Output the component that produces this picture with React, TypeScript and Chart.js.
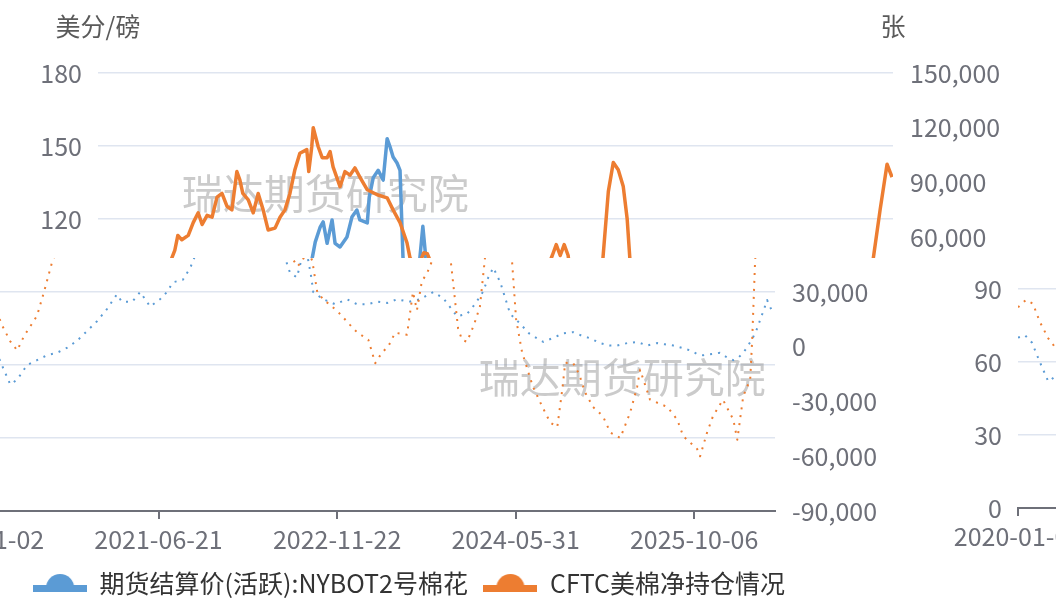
import React, { useEffect, useRef } from "react";
import { Chart, registerables } from "chart.js";

Chart.register(...registerables);

// ---------------- data ----------------
// x values are trading-day offsets from 2020-01-02
const tickDays = [0, 360, 720, 1080, 1440];
const tickLabels = ["2020-01-02", "2021-06-21", "2022-11-22", "2024-05-31", "2025-10-06"];
const lastDay = 1603;

const priceName = "期货结算价(活跃):NYBOT2号棉花";
const netName = "CFTC美棉净持仓情况";
const leftAxisName = "美分/磅";
const rightAxisName = "张";
const watermarkText = "瑞达期货研究院";

const priceDays = [
  0, 14, 28, 44, 61, 75, 95, 115, 135, 155, 175, 196, 216, 236, 256, 276, 286, 307, 323, 343,
  363, 377, 389, 409, 424, 432, 438, 448, 454, 462, 472, 478, 488, 502, 512, 522, 528, 543, 547, 555,
  565, 575, 583, 589, 595, 603, 609, 615, 625, 639, 649, 655, 661, 668, 672, 692, 716, 740, 760, 781,
  801, 821, 841, 865, 887, 914, 934, 962, 982, 998, 1014, 1025, 1035, 1049, 1069, 1089, 1107, 1123, 1136, 1154,
  1176, 1196, 1214, 1230, 1250, 1269, 1285, 1305, 1325, 1345, 1365, 1381, 1398, 1416, 1432, 1446, 1458, 1476, 1492, 1507,
  1519, 1529, 1539, 1549, 1559, 1567, 1573, 1581, 1587, 1593, 1599,
];
const priceValues = [
  70, 71, 68, 60, 52, 54, 60, 62, 64, 65, 67, 70, 74, 78, 83, 89, 86, 86, 90, 84,
  87, 90, 94, 95, 100, 104, 110.5, 116.7, 118.8, 110, 119.6, 110, 108.5, 112.6, 120.8, 123.7, 119.6, 118.4, 129, 137,
  140, 136, 153, 149.6, 145.5, 143, 140, 104, 98, 96, 104, 117, 104, 96, 90, 87, 85, 87, 85, 85,
  86, 85.5, 87, 86, 87, 90, 87.5, 80, 81, 85, 90, 96, 100, 94, 81, 77, 73, 71, 69.5, 71,
  73, 73.5, 72, 71, 69, 68, 68, 69, 69.5, 68, 69, 68.5, 68, 67, 66, 64.5, 64, 64.5, 65, 63,
  62, 63, 65, 68, 71.5, 75, 78.5, 83, 86.7, 84, 81,
];

const netDays = [
  0, 16, 30, 44, 61, 75, 89, 101, 115, 129, 141, 145, 155, 161, 169, 182, 192, 202, 210, 220,
  230, 240, 250, 260, 270, 280, 286, 292, 303, 313, 323, 333, 343, 357, 367, 377, 387, 397, 407, 421,
  425, 431, 434, 444, 452, 462, 468, 474, 488, 498, 508, 518, 528, 543, 563, 583, 595, 609, 623, 629,
  640, 650, 657, 664, 670, 680, 692, 710, 726, 746, 760, 783, 797, 811, 823, 837, 861, 873, 881, 891,
  901, 916, 924, 932, 940, 948, 956, 964, 972, 982, 996, 1008, 1018, 1029, 1039, 1049, 1059, 1067, 1073, 1081,
  1093, 1115, 1134, 1150, 1164, 1174, 1180, 1196, 1208, 1220, 1236, 1256, 1271, 1291, 1311, 1325, 1331, 1351, 1386, 1406,
  1418, 1446, 1452, 1466, 1478, 1498, 1519, 1527, 1539, 1553, 1557, 1563, 1577, 1591, 1601,
];
const netValues = [
  20000, 24000, 22000, 12000, 3000, -2000, 6000, 11000, 17000, 30000, 42000, 46000, 53000, 61000, 58600, 61000, 68000, 73400, 67000, 72000,
  71000, 82000, 84000, 77000, 75000, 96000, 91500, 84000, 80500, 73400, 84000, 75000, 64000, 65000, 71000, 75000, 84000, 97000, 106000, 108000,
  96000, 109600, 120000, 109600, 103600, 103600, 107000, 98600, 87700, 96000, 94000, 98000, 93000, 86000, 83300, 81600, 75000, 68000, 57000, 48800,
  44000, 47000, 51500, 51000, 47000, 30000, 26000, 22000, 18000, 12000, 8000, 3800, -9000, -3000, 0, 7700, 6600, 30000, 20000, 36000,
  40000, 50000, 56000, 50000, 56000, 50000, 30000, 10000, 3800, 2700, 12000, 22000, 48000, 85000, 101000, 97000, 88000, 70000, 46000, 15000,
  -3000, -22000, -33000, -41600, -44000, -23600, -8800, -9000, -15000, -25000, -33000, -38000, -47000, -50000, -36000, -22000, -12600, -29000, -33000, -40000,
  -49000, -56000, -60000, -47000, -38000, -29000, -40000, -51000, -27000, -18000, 4000, 48000, 75000, 100000, 93000,
];

const leftMin = 0, leftMax = 180, leftStep = 30;
const rightMin = -90000, rightMax = 150000, rightStep = 30000;

// ---------------- style ----------------
const BLUE = "#5B9BD5";
const ORANGE = "#ED7D31";
const FONT = '"Noto Sans CJK SC", "Noto Sans", sans-serif';
const TICK_COLOR = "#6E7079";
const GRID_COLOR = "#DFE5F0";
const SPLIT = 258;
const SHIFT = 118;
const CANVAS_W = 1040;
const CANVAS_H = 602;

Chart.defaults.font.family = FONT;

function legendIcon(color: string) {
  const c = document.createElement("canvas");
  c.width = 54;
  c.height = 28;
  const g = c.getContext("2d")!;
  g.fillStyle = color;
  g.fillRect(0, 16, 54, 7);
  g.beginPath();
  g.arc(27, 19, 14, Math.PI, 0);
  g.closePath();
  g.fill();
  return c;
}

const decorPlugin = {
  id: "decor",
  beforeDatasetsDraw(chart: any) {
    const { ctx, chartArea: a } = chart;
    const w = a.right - a.left;
    const h = a.bottom - a.top;
    ctx.save();
    ctx.font = `41px ${FONT}`;
    ctx.fillStyle = "rgba(140,140,140,0.45)";
    ctx.textAlign = "center";
    ctx.textBaseline = "middle";
    [[0.286, 0.274], [0.808, 0.696]].forEach(([fx, fy]) => {
      ctx.fillText(watermarkText, a.left + fx * w, a.top + fy * h);
    });
    ctx.restore();
  },
  afterDraw(chart: any) {
    const { ctx, chartArea: a } = chart;
    ctx.save();
    ctx.font = `25px ${FONT}`;
    ctx.fillStyle = "#5a5a5a";
    ctx.textAlign = "center";
    ctx.textBaseline = "middle";
    ctx.fillText(leftAxisName, a.left, a.top - 47);
    ctx.fillText(rightAxisName, a.right, a.top - 47);
    ctx.restore();
  },
};

function makeConfig(dotted: boolean): any {
  const line = dotted
    ? { borderWidth: 2, borderDash: [2, 6] }
    : { borderWidth: 3.5, borderDash: [] as number[] };
  const pricePoints = priceDays.map((d, i) => ({ x: d, y: priceValues[i] }));
  const netPoints = netDays.map((d, i) => ({ x: d, y: netValues[i] }));
  return {
    type: "line",
    data: {
      datasets: [
        {
          label: priceName,
          data: pricePoints,
          yAxisID: "y",
          borderColor: BLUE,
          backgroundColor: BLUE,
          pointRadius: 0,
          pointHoverRadius: 0,
          pointStyle: legendIcon(BLUE),
          borderJoinStyle: "round",
          tension: 0,
          order: 2,
          ...line,
        },
        {
          label: netName,
          data: netPoints,
          yAxisID: "y1",
          borderColor: ORANGE,
          backgroundColor: ORANGE,
          pointRadius: 0,
          pointHoverRadius: 0,
          pointStyle: legendIcon(ORANGE),
          borderJoinStyle: "round",
          tension: 0,
          order: 1,
          ...line,
        },
      ],
    },
    options: {
      animation: false,
      responsive: false,
      devicePixelRatio: 1,
      layout: { padding: { left: 14, right: 0, top: 73, bottom: -3.5 } },
      scales: {
        x: {
          type: "linear",
          min: 0,
          max: lastDay,
          afterBuildTicks: (s: any) => {
            s.ticks = tickDays.map((v) => ({ value: v }));
          },
          afterFit: (s: any) => {
            s.height = 44;
          },
          ticks: {
            autoSkip: false,
            maxRotation: 0,
            padding: 5,
            color: TICK_COLOR,
            font: { size: 25 },
            callback: (_v: any, i: number) => tickLabels[i] ?? "",
          },
          grid: { drawOnChartArea: false, drawTicks: true, tickLength: 8, color: "#6E7079", lineWidth: 2 },
          border: { display: true, color: "#6E7079", width: 2 },
        },
        y: {
          position: "left",
          min: leftMin,
          max: leftMax,
          afterFit: (s: any) => {
            s.width = 84;
          },
          ticks: { stepSize: leftStep, padding: 16, color: TICK_COLOR, font: { size: 25 } },
          grid: { color: GRID_COLOR, lineWidth: 1.5, drawTicks: false },
          border: { display: false },
        },
        y1: {
          position: "right",
          min: rightMin,
          max: rightMax,
          afterFit: (s: any) => {
            s.width = 147;
          },
          ticks: {
            stepSize: rightStep,
            padding: 17,
            color: TICK_COLOR,
            font: { size: 25 },
            callback: (v: any) => Number(v).toLocaleString("en-US"),
          },
          grid: { drawOnChartArea: false, drawTicks: false },
          border: { display: false },
        },
      },
      plugins: {
        tooltip: { enabled: false },
        legend: {
          display: true,
          position: "bottom",
          labels: {
            usePointStyle: true,
            pointStyleWidth: 54,
            padding: 15.5,
            color: "#333333",
            font: { size: 25 },
            sort: (a: any, b: any) => a.datasetIndex - b.datasetIndex,
          },
        },
      },
    },
    plugins: [decorPlugin],
  };
}

function CottonChart({ dotted }: { dotted: boolean }) {
  const ref = useRef<HTMLCanvasElement>(null);
  useEffect(() => {
    const chart = new Chart(ref.current as HTMLCanvasElement, makeConfig(dotted));
    return () => chart.destroy();
  }, [dotted]);
  return (
    <canvas
      ref={ref}
      width={CANVAS_W}
      height={CANVAS_H}
      style={{ display: "block", width: CANVAS_W, height: CANVAS_H }}
    />
  );
}

export default function App() {
  return (
    <div
      style={{
        position: "fixed",
        left: 0,
        top: 0,
        width: 1056,
        height: 602,
        overflow: "hidden",
        background: "#ffffff",
      }}
    >
      <div style={{ position: "absolute", left: 0, top: 0, width: 1056, height: SPLIT, overflow: "hidden" }}>
        <CottonChart dotted={false} />
      </div>
      <div
        style={{
          position: "absolute",
          left: 0,
          top: SPLIT,
          width: 1056,
          height: 602 - SPLIT,
          overflow: "hidden",
        }}
      >
        <div style={{ position: "absolute", left: -SHIFT, top: -SPLIT }}>
          <CottonChart dotted={true} />
        </div>
        <div style={{ position: "absolute", left: CANVAS_W - SHIFT - 2, top: -SPLIT - 3 }}>
          <CottonChart dotted={true} />
        </div>
      </div>
    </div>
  );
}
